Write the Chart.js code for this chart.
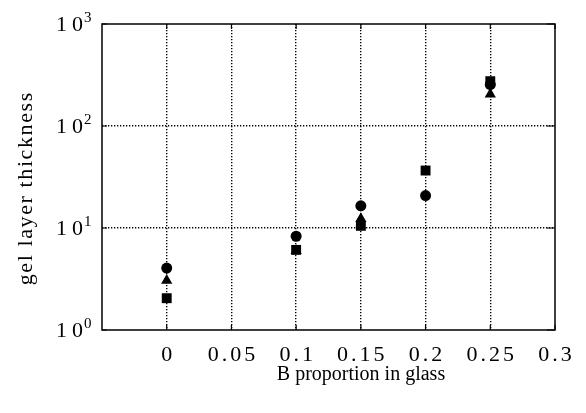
<!DOCTYPE html>
<html>
<head>
<meta charset="utf-8">
<script src="https://cdn.jsdelivr.net/npm/chart.js@4/dist/chart.umd.min.js"></script>
<style>
  html, body { margin: 0; padding: 0; background: #fff; }
  #wrap { position: relative; width: 586px; height: 413px; }
</style>
</head>
<body>
<div id="wrap"><canvas id="myChart" width="586" height="413"></canvas></div>
<script>
// data
const proportions = [0, 0.1, 0.15, 0.2, 0.25];
const circleValues = [4.05, 8.3, 16.5, 20.8, 255];
const triangleValues = [3.05, 6.0, 12.3, null, 205];
const squareValues = [2.05, 6.1, 10.5, 36.6, 275];
const xTicks = [0, 0.05, 0.1, 0.15, 0.2, 0.25, 0.3];
const xTickLabels = ['0', '0.05', '0.1', '0.15', '0.2', '0.25', '0.3'];
const yTicks = [1, 10, 100, 1000];
const yTickExponents = ['0', '1', '2', '3'];

const SERIF = '"Liberation Serif", "DejaVu Serif", serif';

function toPoints(vals) {
  return proportions.map((x, i) => ({ x: x, y: vals[i] }));
}

// text with extra letter spacing
function drawSpaced(ctx, text, x, y, size, spacing, align) {
  ctx.save();
  ctx.font = size + 'px ' + SERIF;
  ctx.letterSpacing = spacing + 'px';
  ctx.textBaseline = 'alphabetic';
  ctx.textAlign = 'left';
  const w = ctx.measureText(text).width - spacing;
  let left = x;
  if (align === 'center') left = x - w / 2;
  if (align === 'right') left = x - w;
  ctx.fillText(text, left, y);
  ctx.restore();
}

const framePlugin = {
  id: 'frame',
  afterDraw(chart) {
    const ctx = chart.ctx;
    const a = chart.chartArea;
    const xs = chart.scales.x, ys = chart.scales.y;
    ctx.save();
    ctx.strokeStyle = '#000';
    ctx.fillStyle = '#000';
    ctx.lineWidth = 1.5;
    ctx.strokeRect(a.left, a.top, a.right - a.left, a.bottom - a.top);
    // inner tick marks
    ctx.lineWidth = 1.2;
    ctx.beginPath();
    xTicks.forEach(v => {
      const px = xs.getPixelForValue(v);
      ctx.moveTo(px, a.top); ctx.lineTo(px, a.top + 5);
      ctx.moveTo(px, a.bottom); ctx.lineTo(px, a.bottom - 5);
    });
    yTicks.forEach(v => {
      const py = ys.getPixelForValue(v);
      ctx.moveTo(a.left, py); ctx.lineTo(a.left + 5, py);
      ctx.moveTo(a.right, py); ctx.lineTo(a.right - 8, py);
    });
    ctx.stroke();

    // x tick labels
    xTicks.forEach((v, i) => {
      drawSpaced(ctx, xTickLabels[i], xs.getPixelForValue(v), a.bottom + 31, 22, 3, 'center');
    });
    // y tick labels 10^n
    yTicks.forEach((v, i) => {
      const py = ys.getPixelForValue(v);
      drawSpaced(ctx, '10', 83, py + 7, 22, 5, 'right');
      drawSpaced(ctx, yTickExponents[i], 84, py - 2, 15, 0, 'left');
    });
    // axis titles
    drawSpaced(ctx, 'B proportion in glass', 361, 380, 20, 0, 'center');
    ctx.save();
    ctx.translate(32, 189);
    ctx.rotate(-Math.PI / 2);
    drawSpaced(ctx, 'gel layer thickness', 0, 0, 22, 1.6, 'center');
    ctx.restore();
    ctx.restore();
  }
};

const ctx = document.getElementById('myChart').getContext('2d');
const myChart = new Chart(ctx, {
  type: 'scatter',
  data: {
    datasets: [
      {
        label: 'square',
        data: toPoints(squareValues),
        pointStyle: 'rect',
        pointRadius: 7,
        pointBackgroundColor: '#000',
        pointBorderColor: '#000',
        pointBorderWidth: 0,
      },
      {
        label: 'triangle',
        data: toPoints(triangleValues),
        pointStyle: 'triangle',
        pointRadius: 6.5,
        pointBackgroundColor: '#000',
        pointBorderColor: '#000',
        pointBorderWidth: 0,
      },
      {
        label: 'circle',
        data: toPoints(circleValues),
        pointStyle: 'circle',
        pointRadius: 5.5,
        pointBackgroundColor: '#000',
        pointBorderColor: '#000',
        pointBorderWidth: 0,
      },
    ]
  },
  options: {
    responsive: false,
    animation: false,
    events: [],
    layout: {
      padding: { top: 24, right: 31, left: 0, bottom: 0 }
    },
    scales: {
      x: {
        type: 'linear',
        min: -0.05,
        max: 0.3,
        afterBuildTicks: s => { s.ticks = [-0.05].concat(xTicks).map(v => ({ value: v })); },
        afterFit: s => { s.height = 83; },
        ticks: { display: false },
        border: { display: false, dash: [1.3, 1.7] },
        grid: {
          drawTicks: false,
          lineWidth: 1.4,
          color: c => (c.tick && c.tick.value > -0.01 && c.tick.value < 0.29) ? '#000' : 'rgba(0,0,0,0)'
        }
      },
      y: {
        type: 'logarithmic',
        min: 1,
        max: 1000,
        afterBuildTicks: s => { s.ticks = yTicks.map(v => ({ value: v })); },
        afterFit: s => { s.width = 102; },
        ticks: { display: false },
        border: { display: false, dash: [1.3, 1.7] },
        grid: {
          drawTicks: false,
          lineWidth: 1.4,
          color: c => (c.tick && c.tick.value > 1 && c.tick.value < 1000) ? '#000' : 'rgba(0,0,0,0)'
        }
      }
    },
    plugins: {
      legend: { display: false },
      tooltip: { enabled: false },
      title: { display: false }
    }
  },
  plugins: [framePlugin]
});
</script>
</body>
</html>
